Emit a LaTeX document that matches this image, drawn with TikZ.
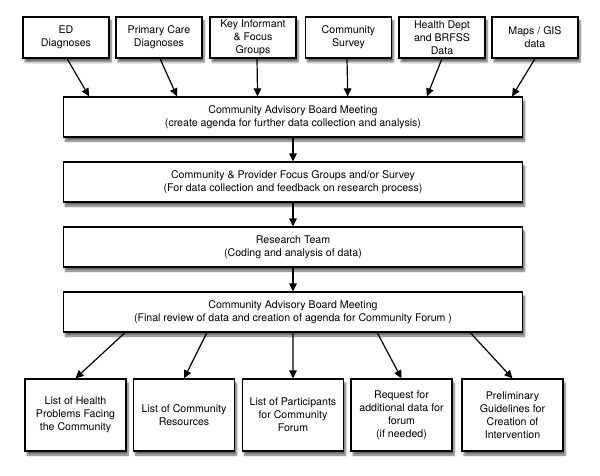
\documentclass[tikz,border=0pt]{standalone}
\usepackage{fontspec}
\setmainfont{TeX Gyre Heros}
\usetikzlibrary{calc, positioning, arrows.meta, shadows.blur}
\tikzset{
  font=\fontsize{10.6}{13}\selectfont,
  % Set arrowhead
  >={Triangle[length=8pt, width=7.5pt]},
  % General box
  box/.style={draw, fill=white, line width=1.2pt, align=center, inner
    sep=1pt, blur shadow={shadow xshift=2pt, shadow yshift=-4pt,
      shadow blur steps=6, shadow opacity=60}},
  % Data source box
  sbox/.style={box, minimum width=86pt, minimum height=41pt},
  % Process box
  pbox/.style={box, minimum width=459pt, minimum height=40pt},
  % Output box
  obox/.style={box, minimum width=101pt, minimum height=72pt},
  % Arrows
  flow/.style={->, line width=1.2pt},
}

\begin{document}
\begin{tikzpicture}[x=1pt, y=-1pt]
  \useasboundingbox (0,0) rectangle (600,476);

  % data sources
  \node[sbox] (ed) at (66,37.5) {ED\\Diagnoses};
  \node[sbox] (pc) at (159,37.5) {Primary Care\\Diagnoses};
  \node[sbox] (kif) at (253,37.5) {Key Informant\\\& Focus\\Groups};
  \node[sbox] (cs) at (348.5,37.5) {Community\\Survey};
  \node[sbox] (hd) at (442,37.5) {Health Dept\\and BRFSS\\Data};
  \node[sbox] (gis) at (535,37.5) {Maps / GIS\\data};

  % process steps
  \node[pbox] (cab) at (293,117) {Community Advisory Board Meeting\\(create
    agenda for further data collection and analysis)};
  \node[pbox] (fg) at (293,182) {Community \& Provider Focus Groups and/or
    Survey\\(For data collection and feedback on research process)};
  \node[pbox] (rt) at (293,247) {Research Team\\(Coding and analysis of data)};
  \node[pbox] (cabf) at (293,312) {Community Advisory Board Meeting\\(Final
    review of data and creation of agenda for Community Forum )};

  % outputs
  \node[obox] (hp) at (75.5,415) {List of Health\\Problems Facing\\the Community};
  \node[obox] (cr) at (184,415) {List of Community\\Resources};
  \node[obox] (lp) at (293,415) {List of Participants\\for Community\\Forum};
  \node[obox] (rd) at (401.5,415) {Request for\\additional data for\\forum\\(if needed)};
  \node[obox] (pg) at (512.5,415) {Preliminary\\Guidelines for\\Creation of\\Intervention};

  \foreach \src/\dx/\pos in {ed/1/0.057, pc/1/0.248, kif/4/0.423,
    cs/-1.5/0.619, hd/0/0.791, gis/0/0.976}
    \draw[flow] ($(\src.south)+(\dx,0)$) -- ($(cab.north west)!\pos!(cab.north east)$);

  \draw[flow] (cab) -- (fg);
  \draw[flow] (fg) -- (rt);
  \draw[flow] (rt) -- (cabf);

  \foreach \dst/\pos in {hp/0.135, cr/0.313, lp/0.5, rd/0.683, pg/0.885}
    \draw[flow] ($(cabf.south west)!\pos!(cabf.south east)$) -- (\dst.north);
\end{tikzpicture}
\end{document}
